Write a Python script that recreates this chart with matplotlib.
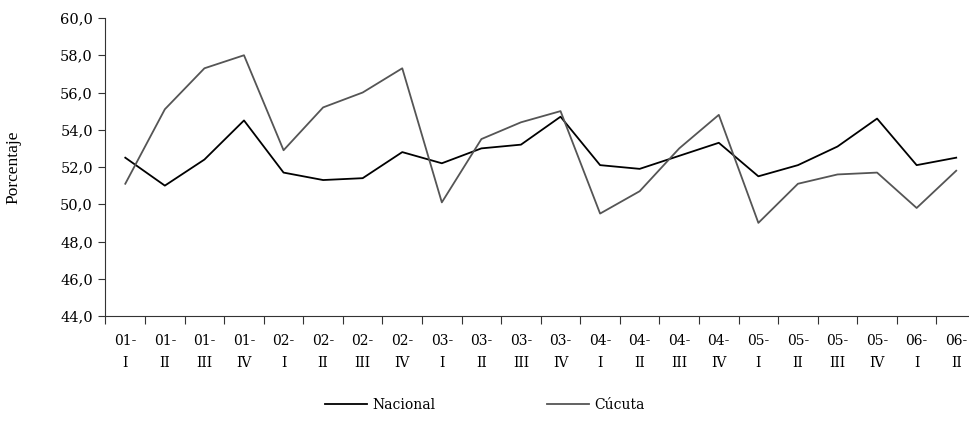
import matplotlib.pyplot as plt
import numpy as np

# trimestres
anios = ["01", "01", "01", "01", "02", "02", "02", "02", "03", "03", "03",
         "03", "04", "04", "04", "04", "05", "05", "05", "05", "06", "06"]
trimestres = ["I", "II", "III", "IV", "I", "II", "III", "IV", "I", "II", "III",
              "IV", "I", "II", "III", "IV", "I", "II", "III", "IV", "I", "II"]

nacional = [52.5, 51.0, 52.4, 54.5, 51.7, 51.3, 51.4, 52.8, 52.2, 53.0, 53.2,
            54.7, 52.1, 51.9, 52.6, 53.3, 51.5, 52.1, 53.1, 54.6, 52.1, 52.5]
cucuta = [51.1, 55.1, 57.3, 58.0, 52.9, 55.2, 56.0, 57.3, 50.1, 53.5, 54.4,
          55.0, 49.5, 50.7, 53.0, 54.8, 49.0, 51.1, 51.6, 51.7, 49.8, 51.8]

etiquetas = [a + "-\n" + t for a, t in zip(anios, trimestres)]

plt.rcParams['font.family'] = ['DejaVu Serif']

fig = plt.figure(figsize=(9.7, 4.25), dpi=100)
ax = fig.add_axes([105.5 / 970, 1 - 316 / 425, (976 - 105.5) / 970, (316 - 18) / 425])

x = np.arange(len(nacional))
ax.plot(x, nacional, color='black', lw=1.3, label='Nacional')
ax.plot(x, cucuta, color='#555555', lw=1.3, label='Cúcuta')

ax.set_xlim(-0.5, len(x) - 0.5)
ax.set_ylim(44, 60)
ax.set_yticks(np.arange(44, 60.1, 2))
ax.set_yticklabels([("%.1f" % v).replace(".", ",") for v in np.arange(44, 60.1, 2)],
                   fontsize=10.5)

# ticks en los bordes, etiquetas en el centro
ax.set_xticks(np.arange(-0.5, len(x), 1.0))
ax.set_xticklabels([])
ax.set_xticks(x, minor=True)
ax.set_xticklabels(etiquetas, minor=True, fontsize=10, linespacing=1.7)
ax.tick_params(axis='x', which='major', length=6, direction='out', color='#333333')
ax.tick_params(axis='x', which='minor', length=0, pad=13)
ax.tick_params(axis='y', length=5, direction='out', color='#333333', pad=4)

ax.spines['top'].set_visible(False)
ax.spines['right'].set_visible(False)
ax.spines['left'].set_color('#333333')
ax.spines['bottom'].set_color('#333333')

ax.set_ylabel('Porcentaje', family='Liberation Serif', fontsize=12.5)
ax.yaxis.set_label_coords(-0.096, 0.5)

fig.legend(loc='center', bbox_to_anchor=(0.5, 1 - 405 / 425), ncol=2, frameon=False,
           fontsize=10, handlelength=3.0, handletextpad=0.4, columnspacing=8.0)

fig.savefig('out.png', dpi=100)
